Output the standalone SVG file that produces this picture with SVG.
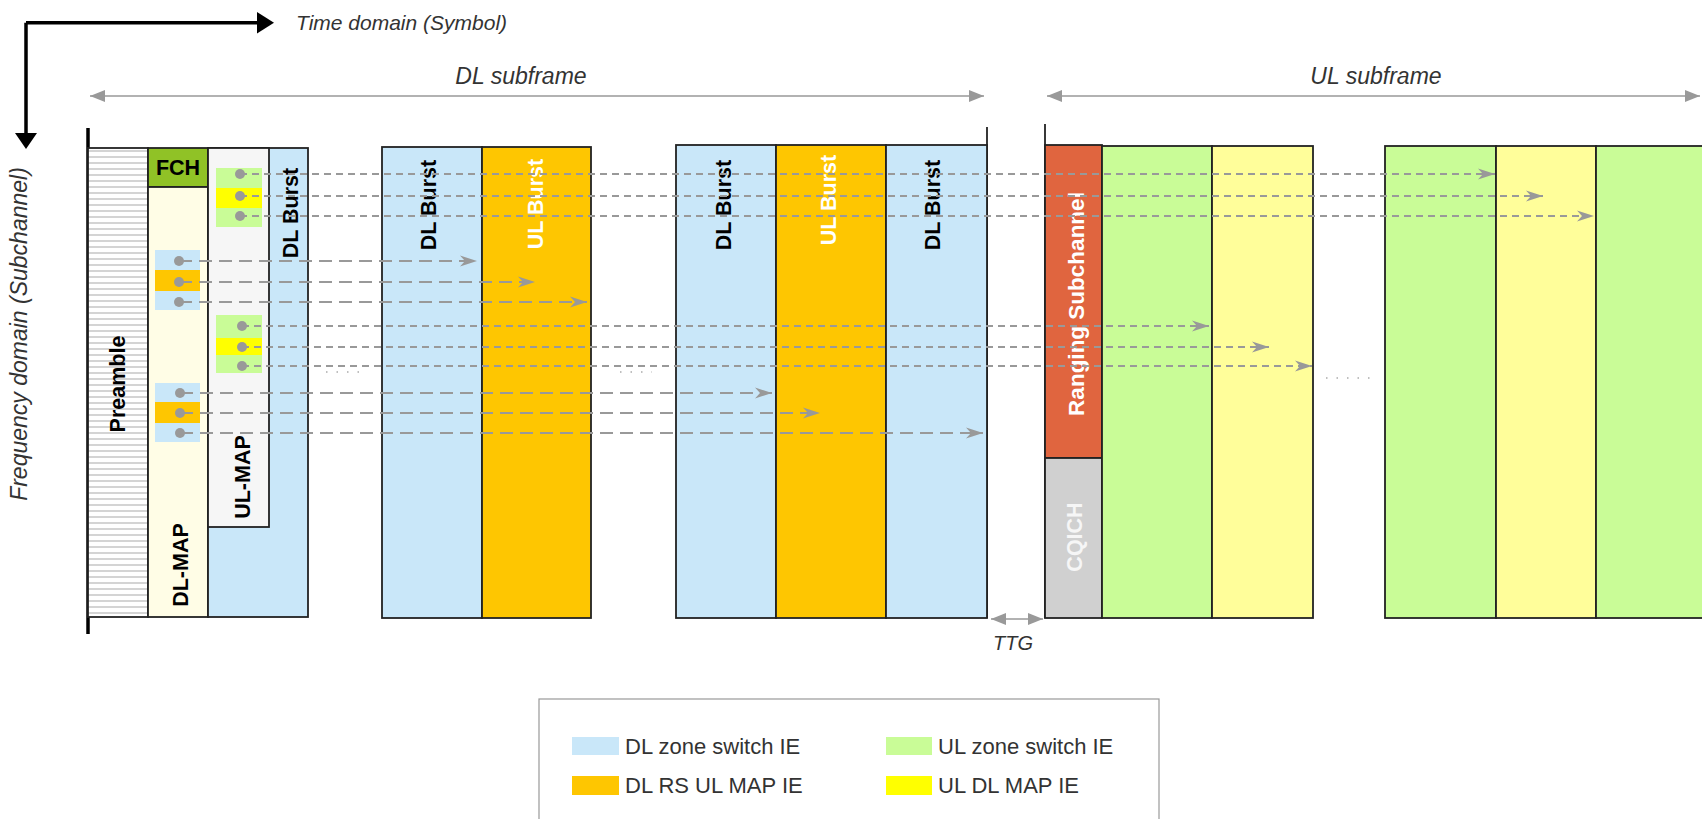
<svg xmlns="http://www.w3.org/2000/svg" width="1702" height="819" viewBox="0 0 1702 819">
<defs>
<style>
.box{stroke:#222;stroke-width:1.8}
.blue{fill:#c9e7f9}
.orange{fill:#fec601}
.green{fill:#c9fc97}
.yellow{fill:#fffe9a}
.bold{font-family:"Liberation Sans",Arial,sans-serif;font-weight:bold;font-size:21.5px;text-anchor:middle}
.ital{font-family:"Liberation Sans",Arial,sans-serif;font-style:italic;font-size:20px;fill:#333}
.big{font-size:23px}
.leg{font-family:"Liberation Sans",Arial,sans-serif;font-size:22px;fill:#333}
.dS{fill:none;stroke:#999;stroke-width:1.8;stroke-dasharray:7 5}
.dL{fill:none;stroke:#999;stroke-width:1.8;stroke-dasharray:13 7}
.dot{fill:#999}
.dim{fill:none;stroke:#999;stroke-width:1.6}
</style>
<pattern id="hatch" patternUnits="userSpaceOnUse" x="0" y="148" width="10" height="6">
<rect width="10" height="6" fill="#fff"/>
<line x1="0" y1="3" x2="10" y2="3" stroke="#aaa" stroke-width="1"/>
</pattern>
<marker id="ah" markerUnits="userSpaceOnUse" markerWidth="18" markerHeight="12" refX="17" refY="6" orient="auto">
<path d="M0,0.5 L17,6 L0,11.5 L5,6 z" fill="#999"/>
</marker>
<marker id="gh" markerUnits="userSpaceOnUse" markerWidth="16" markerHeight="12" refX="15" refY="6" orient="auto-start-reverse">
<path d="M0,0 L15,6 L0,12 z" fill="#999"/>
</marker>
</defs>
<rect width="1702" height="819" fill="#fff"/>

<g id="axes">
<path d="M26,22.7 H258 M26,22.7 V134" fill="none" stroke="#000" stroke-width="3.5"/>
<path d="M257,12 L274,22.7 L257,33.5 z" fill="#000"/>
<path d="M15,133 L26,149 L37,133 z" fill="#000"/>
<text class="ital" x="296" y="30" style="font-size:21px">Time domain (Symbol)</text>
<text class="ital big" transform="translate(27,334) rotate(-90)" text-anchor="middle">Frequency domain (Subchannel)</text>
</g>

<g id="dimensions">
<line class="dim" x1="90" y1="96" x2="984" y2="96" marker-start="url(#gh)" marker-end="url(#gh)"/>
<text class="ital big" x="521" y="84" text-anchor="middle">DL subframe</text>
<line class="dim" x1="1047" y1="96" x2="1700" y2="96" marker-start="url(#gh)" marker-end="url(#gh)"/>
<text class="ital big" x="1376" y="84" text-anchor="middle">UL subframe</text>
<line class="dim" x1="991" y1="619" x2="1043" y2="619" marker-start="url(#gh)" marker-end="url(#gh)"/>
<text class="ital" x="1013" y="650" text-anchor="middle">TTG</text>
</g>

<g id="frame-lines">
<line x1="88" y1="128" x2="88" y2="634" stroke="#000" stroke-width="3.5"/>
<line x1="987" y1="127" x2="987" y2="618" stroke="#222" stroke-width="1.8"/>
<line x1="1045" y1="124" x2="1045" y2="618" stroke="#222" stroke-width="1.8"/>
</g>

<g id="preamble">
<rect class="box" x="88" y="148" width="60" height="469" fill="url(#hatch)"/>
<text class="bold" transform="translate(117,384) rotate(-90)" dy="0.35em">Preamble</text>
</g>
<g id="fch">
<rect class="box" x="148" y="148" width="60" height="39" fill="#90c226"/>
<text class="bold" x="178" y="175">FCH</text>
</g>
<g id="dl-map">
<rect class="box" x="148" y="187" width="60" height="430" fill="#fffde6"/>
<text class="bold" transform="translate(180,565) rotate(-90)" dy="0.35em">DL-MAP</text>
</g>
<g id="dl-burst-1">
<rect class="box blue" x="208" y="148" width="100" height="469"/>
<text class="bold" transform="translate(290,213) rotate(-90)" dy="0.35em">DL Burst</text>
</g>
<g id="ul-map">
<rect class="box" x="208" y="148" width="61" height="379" fill="#f6f6f6"/>
<text class="bold" transform="translate(242,477) rotate(-90)" dy="0.35em">UL-MAP</text>
</g>
<g id="dl-map-ies">
<rect x="155" y="250" width="45" height="20" fill="#c9e7f9"/>
<rect x="155" y="270" width="45" height="21" fill="#fec601"/>
<rect x="155" y="291" width="45" height="19" fill="#c9e7f9"/>
<rect x="155" y="383" width="45" height="19" fill="#c9e7f9"/>
<rect x="155" y="402" width="45" height="21" fill="#fec601"/>
<rect x="155" y="423" width="45" height="19" fill="#c9e7f9"/>
</g>
<g id="ul-map-ies">
<rect x="216" y="168" width="46" height="20" fill="#c9fc97"/>
<rect x="216" y="188" width="46" height="20" fill="#ffff00"/>
<rect x="216" y="208" width="46" height="19" fill="#c9fc97"/>
<rect x="216" y="315" width="46" height="23" fill="#c9fc97"/>
<rect x="216" y="338" width="46" height="17" fill="#ffff00"/>
<rect x="216" y="355" width="46" height="18" fill="#c9fc97"/>
</g>

<g id="dl-burst-2">
<rect class="box blue" x="382" y="147" width="100" height="471"/>
<text class="bold" transform="translate(428,205) rotate(-90)" dy="0.35em">DL Burst</text>
</g>
<g id="ul-burst-1">
<rect class="box orange" x="482" y="147" width="109" height="471"/>
<text class="bold" fill="#fff" transform="translate(535,204) rotate(-90)" dy="0.35em">UL Burst</text>
</g>
<g id="dl-burst-3">
<rect class="box blue" x="676" y="145" width="100" height="473"/>
<text class="bold" transform="translate(723,205) rotate(-90)" dy="0.35em">DL Burst</text>
</g>
<g id="ul-burst-2">
<rect class="box orange" x="776" y="145" width="110" height="473"/>
<text class="bold" fill="#fff" transform="translate(828,200) rotate(-90)" dy="0.35em">UL Burst</text>
</g>
<g id="dl-burst-4">
<rect class="box blue" x="886" y="145" width="101" height="473"/>
<text class="bold" transform="translate(932,205) rotate(-90)" dy="0.35em">DL Burst</text>
</g>
<g id="ranging">
<rect class="box" x="1045" y="145" width="57" height="313" fill="#e0653f"/>
<text class="bold" fill="#fff" style="font-size:22.5px" transform="translate(1076,304) rotate(-90)" dy="0.35em">Ranging Subchannel</text>
</g>
<g id="cqich">
<rect class="box" x="1045" y="458" width="57" height="160" fill="#d0d0d0"/>
<text class="bold" fill="#f6f6f6" transform="translate(1074,537) rotate(-90)" dy="0.35em">CQICH</text>
</g>
<g id="ul-zone-1"><rect class="box green" x="1102" y="146" width="110" height="472"/></g>
<g id="ul-zone-2"><rect class="box yellow" x="1212" y="146" width="101" height="472"/></g>
<g id="ul-zone-3"><rect class="box green" x="1385" y="146" width="111" height="472"/></g>
<g id="ul-zone-4"><rect class="box yellow" x="1496" y="146" width="100" height="472"/></g>
<g id="ul-zone-5"><rect class="box green" x="1596" y="146" width="112" height="472"/></g>

<g id="connectors">
<line class="dS" x1="240" y1="174" x2="1495" y2="174" marker-end="url(#ah)"/>
<line class="dS" x1="240" y1="196" x2="1543" y2="196" marker-end="url(#ah)"/>
<line class="dS" x1="240" y1="216" x2="1594" y2="216" marker-end="url(#ah)"/>
<line class="dL" x1="179" y1="261" x2="477" y2="261" marker-end="url(#ah)"/>
<line class="dL" x1="179" y1="282" x2="535" y2="282" marker-end="url(#ah)"/>
<line class="dL" x1="179" y1="302" x2="587" y2="302" marker-end="url(#ah)"/>
<line class="dS" x1="242" y1="326" x2="1209" y2="326" marker-end="url(#ah)"/>
<line class="dS" x1="242" y1="347" x2="1269" y2="347" marker-end="url(#ah)"/>
<line class="dS" x1="242" y1="366" x2="1312" y2="366" marker-end="url(#ah)"/>
<line class="dL" x1="180" y1="393" x2="772" y2="393" marker-end="url(#ah)"/>
<line class="dL" x1="180" y1="413" x2="820" y2="413" marker-end="url(#ah)"/>
<line class="dL" x1="180" y1="433" x2="983" y2="433" marker-end="url(#ah)"/>
<circle class="dot" cx="240" cy="174" r="5"/>
<circle class="dot" cx="240" cy="196" r="5"/>
<circle class="dot" cx="240" cy="216" r="5"/>
<circle class="dot" cx="179" cy="261" r="5"/>
<circle class="dot" cx="179" cy="282" r="5"/>
<circle class="dot" cx="179" cy="302" r="5"/>
<circle class="dot" cx="242" cy="326" r="5"/>
<circle class="dot" cx="242" cy="347" r="5"/>
<circle class="dot" cx="242" cy="366" r="5"/>
<circle class="dot" cx="180" cy="393" r="5"/>
<circle class="dot" cx="180" cy="413" r="5"/>
<circle class="dot" cx="180" cy="433" r="5"/>
<path d="M326,372 H368 M620,372 H652 M1326,378 H1372" fill="none" stroke="#aaa" stroke-width="1.5" stroke-dasharray="1.5 9"/>
</g>

<g id="legend">
<rect x="539" y="699" width="620" height="130" fill="#fff" stroke="#999" stroke-width="1.2"/>
<rect x="572" y="737" width="47" height="18" fill="#c9e7f9"/>
<text class="leg" x="625" y="754">DL zone switch IE</text>
<rect x="572" y="776" width="47" height="19" fill="#fec601"/>
<text class="leg" x="625" y="793">DL RS UL MAP IE</text>
<rect x="886" y="737" width="46" height="18" fill="#c9fc97"/>
<text class="leg" x="938" y="754">UL zone switch IE</text>
<rect x="886" y="776" width="46" height="19" fill="#ffff00"/>
<text class="leg" x="938" y="793">UL DL MAP IE</text>
</g>
</svg>
